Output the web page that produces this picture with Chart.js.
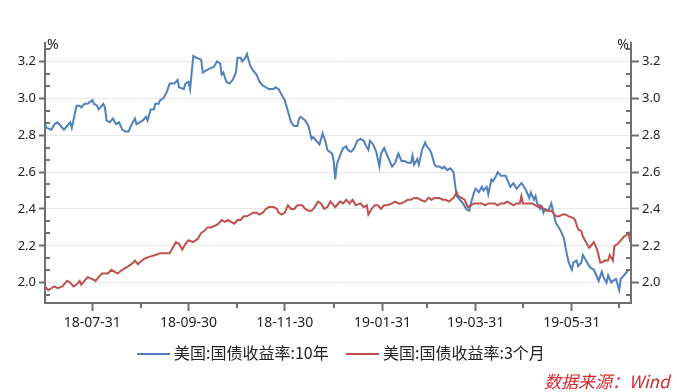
<!DOCTYPE html>
<html>
<head>
<meta charset="utf-8">
<script src="https://cdn.jsdelivr.net/npm/chart.js@4.4.1/dist/chart.umd.min.js"></script>
<style>
  body { margin: 0; background: #fff; }
  #wrap { position: relative; width: 677px; height: 392px; font-family: "Noto Sans CJK SC", sans-serif; }
  .key { position: absolute; top: 341px; height: 22px; line-height: 22px; font-size: 16px; color: #222; white-space: nowrap; }
  .key i { display: inline-block; width: 33px; height: 2px; vertical-align: middle; margin-right: 4px; position: relative; top: -1px; }
  #src { position: absolute; left: 544px; top: 368px; color: #d2262b; font-style: italic; font-size: 17px; white-space: nowrap; }
</style>
</head>
<body>
<div id="wrap">
  <canvas id="myChart" width="677" height="392"></canvas>
  <div class="key" style="left:137px"><i style="background:#4f81bd"></i>美国:国债收益率:10年</div>
  <div class="key" style="left:346px"><i style="background:#c0504d"></i>美国:国债收益率:3个月</div>
  <div id="src">数据来源：Wind</div>
</div>
<script>
// days counted from 2018-07-01
var startDate = '2018-07-01';

var tenYearDays = [
  0, 1, 4, 6, 8, 10, 12, 14, 16, 17, 18, 20, 22, 23, 25, 27, 30, 31, 33, 34,
  36, 37, 38, 39, 41, 43, 45, 47, 49, 51, 53, 55, 57, 58, 60,
  62, 64, 65, 67, 69, 70, 72, 73, 75, 77, 79, 80, 82, 84, 85, 88, 89, 91, 92, 93,
  94, 96, 99, 100, 102, 104, 107, 109, 111, 112, 113, 115, 117, 119, 121, 122,
  124, 125, 127, 128, 130, 132, 134, 136, 138, 140, 142, 145, 146, 148, 150, 152, 153, 155, 156, 158,
  160, 161, 162, 165, 167, 169, 170, 172, 174, 176, 178, 179, 182, 183, 184, 185,
  187, 189, 191, 192, 194, 196, 198, 200, 202, 203, 205, 206, 208, 210, 212, 213, 215, 217, 220, 222,
  224, 226, 228, 230, 232, 233, 234, 236, 237, 239, 241, 242, 244, 245, 247, 248, 250,
  252, 253, 255, 257, 259, 260, 261, 263, 265, 267, 269, 270, 272, 273, 275, 277, 278, 280, 281, 283,
  284, 286, 287, 289, 290, 292, 293, 295, 297, 299, 300, 302, 303, 305, 307, 308, 310, 311, 312, 313,
  314, 315, 316, 317, 319, 320, 321, 322, 324, 325, 327, 329, 330, 332, 334, 335, 337, 338, 340, 341,
  343, 345, 346, 348, 349, 351, 353, 354, 356, 357, 359, 360, 362, 364, 365, 367, 368, 370
];
var tenYearRate = [
  2.86, 2.84, 2.83, 2.86, 2.87, 2.85, 2.83, 2.85, 2.87, 2.84, 2.88, 2.96, 2.96, 2.95, 2.97, 2.97, 2.99, 2.97, 2.96, 2.94,
  2.96, 2.97, 2.95, 2.88, 2.87, 2.89, 2.86, 2.87, 2.83, 2.82, 2.82, 2.86, 2.89, 2.86, 2.87,
  2.88, 2.90, 2.88, 2.94, 2.94, 2.97, 2.97, 2.99, 3.00, 3.03, 3.08, 3.08, 3.08, 3.10, 3.06, 3.05, 3.08, 3.09, 3.05, 3.14,
  3.23, 3.22, 3.21, 3.14, 3.15, 3.16, 3.17, 3.20, 3.19, 3.13, 3.14, 3.09, 3.08, 3.10, 3.14, 3.22,
  3.22, 3.20, 3.22, 3.24, 3.18, 3.15, 3.13, 3.09, 3.07, 3.06, 3.05, 3.05, 3.06, 3.05, 3.02, 2.99, 2.96, 2.90, 2.87, 2.85,
  2.85, 2.89, 2.90, 2.88, 2.85, 2.78, 2.79, 2.77, 2.75, 2.81, 2.76, 2.72, 2.70, 2.66, 2.56, 2.64,
  2.69, 2.73, 2.74, 2.72, 2.71, 2.73, 2.77, 2.78, 2.77, 2.75, 2.72, 2.77, 2.75, 2.71, 2.63, 2.70, 2.73, 2.69, 2.63, 2.65,
  2.70, 2.66, 2.66, 2.65, 2.65, 2.69, 2.64, 2.67, 2.64, 2.72, 2.76, 2.74, 2.72, 2.70, 2.64, 2.63, 2.63,
  2.62, 2.63, 2.61, 2.62, 2.60, 2.53, 2.47, 2.45, 2.43, 2.40, 2.39, 2.43, 2.49, 2.51, 2.49, 2.52, 2.50, 2.52, 2.48, 2.56,
  2.55, 2.58, 2.60, 2.58, 2.58, 2.58, 2.56, 2.52, 2.54, 2.51, 2.52, 2.54, 2.53, 2.50, 2.46, 2.49, 2.45, 2.47, 2.43, 2.42,
  2.40, 2.41, 2.38, 2.40, 2.39, 2.41, 2.43, 2.39, 2.32, 2.31, 2.28, 2.24, 2.19, 2.11, 2.07, 2.11, 2.12, 2.09, 2.11, 2.15,
  2.12, 2.09, 2.08, 2.07, 2.05, 2.01, 2.06, 2.03, 2.00, 2.04, 2.00, 2.01, 2.02, 1.96, 2.02, 2.04, 2.05, 2.07
];

var threeMonthDays = [
  0, 2, 4, 6, 8, 11, 14, 16, 18, 20, 22, 23, 25, 27, 30, 32, 34, 36, 38, 40,
  42, 44, 46, 49, 51, 53, 56, 57, 59, 60,
  63, 66, 70, 73, 76, 79, 81, 83, 85, 87, 89, 91, 94, 97, 99, 101, 103, 105, 108, 110,
  112, 114, 116, 118, 120, 122,
  124, 126, 128, 130, 132, 134, 136, 138, 140, 142, 145, 147, 148, 150, 152, 154, 156, 158, 160, 163,
  165, 167, 169, 171, 173, 175, 177, 179, 181, 182, 184, 185, 187,
  189, 191, 193, 195, 197, 200, 202, 204, 205, 207, 209, 211, 213, 215, 217, 220, 222, 224, 226, 228,
  230, 232, 234, 236, 238, 241, 243, 245, 247, 250,
  252, 254, 256, 259, 261, 262, 264, 266, 268, 270, 272, 274, 277, 279, 281, 283, 285, 287, 289, 291,
  293, 295, 297, 299, 301, 302, 303, 305, 307, 309, 311, 313,
  314, 316, 318, 319, 321, 322, 324, 326, 328, 330, 332, 335, 336, 338, 340, 341, 343, 345, 347, 348,
  350, 352, 353, 355, 357, 358, 360, 361, 363, 365, 367, 369, 370, 371
];
var threeMonthRate = [
  1.98, 1.96, 1.97, 1.98, 1.97, 1.98, 2.01, 2.00, 1.98, 1.99, 2.01, 1.99, 2.01, 2.03, 2.02, 2.01, 2.03, 2.05, 2.05, 2.05,
  2.07, 2.06, 2.05, 2.07, 2.08, 2.09, 2.11, 2.12, 2.10, 2.11,
  2.13, 2.14, 2.15, 2.16, 2.16, 2.16, 2.19, 2.22, 2.21, 2.18, 2.21, 2.23, 2.22, 2.24, 2.27, 2.28, 2.30, 2.30, 2.31, 2.32,
  2.34, 2.33, 2.34, 2.33, 2.32, 2.34,
  2.34, 2.36, 2.36, 2.37, 2.38, 2.38, 2.37, 2.38, 2.40, 2.41, 2.41, 2.40, 2.38, 2.37, 2.38, 2.42, 2.40, 2.40, 2.42, 2.42,
  2.40, 2.39, 2.39, 2.41, 2.44, 2.43, 2.40, 2.41, 2.44, 2.43, 2.41, 2.42, 2.44,
  2.43, 2.45, 2.43, 2.45, 2.42, 2.43, 2.41, 2.42, 2.37, 2.40, 2.42, 2.42, 2.40, 2.42, 2.42, 2.43, 2.44, 2.43, 2.43, 2.44,
  2.45, 2.45, 2.46, 2.46, 2.45, 2.44, 2.46, 2.45, 2.46, 2.46,
  2.45, 2.45, 2.44, 2.46, 2.49, 2.47, 2.46, 2.45, 2.41, 2.42, 2.43, 2.43, 2.43, 2.42, 2.43, 2.43, 2.43, 2.42, 2.43, 2.43,
  2.44, 2.43, 2.42, 2.43, 2.43, 2.47, 2.43, 2.43, 2.43, 2.43, 2.42, 2.41,
  2.42, 2.40, 2.39, 2.39, 2.39, 2.38, 2.36, 2.36, 2.37, 2.37, 2.36, 2.35, 2.34, 2.29, 2.28, 2.25, 2.22, 2.19, 2.21, 2.22,
  2.18, 2.11, 2.11, 2.12, 2.12, 2.15, 2.12, 2.20, 2.21, 2.23, 2.25, 2.26, 2.27, 2.22
];

// month ends on the x axis; only some of them carry a label
var monthEnds = ['2018-07-31', '2018-08-31', '2018-09-30', '2018-10-31', '2018-11-30', '2018-12-31',
                 '2019-01-31', '2019-02-28', '2019-03-31', '2019-04-30', '2019-05-31', '2019-06-30'];
var xTickLabels = ['18-07-31', '18-09-30', '18-11-30', '19-01-31', '19-03-31', '19-05-31'];
var yTicks = [2.0, 2.2, 2.4, 2.6, 2.8, 3.0, 3.2];

var axisColor = '#6f6f6f';

function dayOf(d) {
  return Math.round((Date.parse(d) - Date.parse(startDate)) / 86400000);
}
function shortLabel(d) { return d.slice(2); }

var labelDays = monthEnds.filter(function (d) { return xTickLabels.indexOf(shortLabel(d)) >= 0; }).map(dayOf);
var minorDays = monthEnds.filter(function (d) { return xTickLabels.indexOf(shortLabel(d)) < 0; }).map(dayOf);

var minorY = [];
yTicks.forEach(function (v) {
  [-2, -1, 1, 2].forEach(function (k) {
    var m = v + k / 15;
    if (m > 1.9 && m < 3.29 && minorY.indexOf(m.toFixed(3)) < 0) minorY.push(m.toFixed(3));
  });
});

function points(days, vals) {
  return days.map(function (d, i) { return { x: d, y: vals[i] }; });
}

var axisExtras = {
  id: 'axisExtras',
  afterDraw: function (chart) {
    var ctx = chart.ctx, a = chart.chartArea;
    var ys = chart.scales.y, xs = chart.scales.x;
    ctx.save();
    ctx.strokeStyle = axisColor;
    ctx.lineWidth = 2;
    ctx.beginPath();
    minorY.forEach(function (v) {
      var py = Math.round(ys.getPixelForValue(+v));
      ctx.moveTo(a.left, py); ctx.lineTo(a.left + 5, py);
      ctx.moveTo(a.right - 5, py); ctx.lineTo(a.right, py);
    });
    minorDays.forEach(function (d) {
      var px = Math.round(xs.getPixelForValue(d));
      ctx.moveTo(px, a.bottom); ctx.lineTo(px, a.bottom + 5);
    });
    ctx.stroke();
    ctx.fillStyle = '#222';
    ctx.font = '14px "Noto Sans", sans-serif';
    ctx.textBaseline = 'alphabetic';
    ctx.textAlign = 'left';
    ctx.fillText('%', a.left + 2, a.top + 6);
    ctx.textAlign = 'right';
    ctx.fillText('%', a.right - 2, a.top + 6);
    ctx.restore();
  }
};

document.addEventListener('DOMContentLoaded', function () {
  var ctx = document.getElementById('myChart').getContext('2d');
  Chart.defaults.font.family = '"Noto Sans", "Noto Sans CJK SC", sans-serif';
  Chart.defaults.color = '#1e1e1e';

  new Chart(ctx, {
    type: 'line',
    data: {
      datasets: [{
        label: '美国:国债收益率:10年',
        data: points(tenYearDays, tenYearRate),
        borderColor: '#4f81bd',
        backgroundColor: '#4f81bd',
        borderWidth: 2,
        pointRadius: 0,
        tension: 0,
        order: 1
      }, {
        label: '美国:国债收益率:3个月',
        data: points(threeMonthDays, threeMonthRate),
        borderColor: '#c0504d',
        backgroundColor: '#c0504d',
        borderWidth: 2,
        pointRadius: 0,
        tension: 0,
        order: 0
      }]
    },
    options: {
      responsive: false,
      animation: false,
      devicePixelRatio: 1,
      layout: { padding: { top: 43, left: 0, right: 0, bottom: 0 } },
      plugins: { legend: { display: false }, tooltip: { enabled: false } },
      scales: {
        x: {
          type: 'linear',
          min: 0,
          max: 371.5,
          afterBuildTicks: function (scale) {
            scale.ticks = labelDays.map(function (d) { return { value: d }; });
          },
          afterFit: function (scale) { scale.height = 89; },
          ticks: {
            autoSkip: false,
            maxRotation: 0,
            padding: 4,
            font: { size: 14 },
            callback: function (v) {
              var i = labelDays.indexOf(v);
              return i >= 0 ? xTickLabels[i] : '';
            }
          },
          grid: { drawOnChartArea: false, tickLength: 8, tickColor: axisColor, tickWidth: 2 },
          border: { color: axisColor, width: 2 }
        },
        y: {
          position: 'left',
          min: 1.89,
          max: 3.30,
          afterBuildTicks: function (scale) {
            scale.ticks = yTicks.map(function (v) { return { value: v }; });
          },
          afterFit: function (scale) { scale.width = 45; },
          ticks: { padding: 3, font: { size: 13 }, callback: function (v) { return v.toFixed(1); } },
          grid: { color: '#e8e8e8', tickLength: 6, tickColor: axisColor, tickWidth: 2 },
          border: { color: axisColor, width: 2 }
        },
        y2: {
          position: 'right',
          min: 1.89,
          max: 3.30,
          afterBuildTicks: function (scale) {
            scale.ticks = yTicks.map(function (v) { return { value: v }; });
          },
          afterFit: function (scale) { scale.width = 46; },
          ticks: { padding: 3, font: { size: 13 }, callback: function (v) { return v.toFixed(1); } },
          grid: { drawOnChartArea: false, tickLength: 8, tickColor: axisColor, tickWidth: 2 },
          border: { color: axisColor, width: 2 }
        }
      }
    },
    plugins: [axisExtras]
  });
});
</script>
</body>
</html>
